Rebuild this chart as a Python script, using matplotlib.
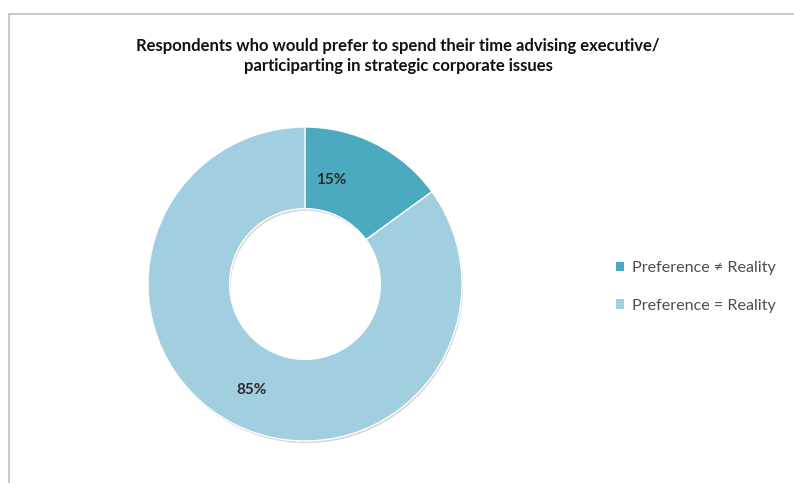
import matplotlib
matplotlib.use("Agg")
import matplotlib.pyplot as plt
import matplotlib.patheffects as pe
from matplotlib.lines import Line2D
from matplotlib.patches import Patch
import numpy as np

title = ("Respondents who would prefer to spend their time advising executive/\n"
         "participarting in strategic corporate issues")
categories = ["Preference \u2260 Reality", "Preference = Reality"]
values = [15, 85]
colors = ["#4BA9C0", "#A2CFDF"]

W, H = 794, 483
fig = plt.figure(figsize=(W / 100, H / 100), dpi=100)
fig.patch.set_facecolor("white")

# chart frame (top and left edges)
fig.add_artist(Line2D([9 / W, 9 / W], [0, 1 - 14 / H], transform=fig.transFigure,
                      color="#c4c4c4", lw=1.3))
fig.add_artist(Line2D([9 / W, 1], [1 - 14 / H, 1 - 14 / H], transform=fig.transFigure,
                      color="#c4c4c4", lw=1.3))

cx, cy, R = 305, 284, 157
half = 162
ax = fig.add_axes([(cx - half) / W, (H - cy - half) / H, 2 * half / W, 2 * half / H])

wedges, _ = ax.pie(values, colors=colors, startangle=90, counterclock=False,
                   radius=1.0, wedgeprops=dict(width=0.52, edgecolor="white", linewidth=1.0))
for w in wedges:
    w.set_path_effects([pe.SimplePatchShadow(offset=(0.8, -1.5), shadow_rgbFace="#888888",
                                             alpha=0.35), pe.Normal()])

lim = half / R
ax.set_xlim(-lim, lim)
ax.set_ylim(-lim, lim)
ax.set_aspect("equal")
ax.axis("off")

# percentage labels placed along each wedge's mid angle
label_r = [0.68, 0.755]
label_shift = [13, 0]
for w, v, r, s in zip(wedges, values, label_r, label_shift):
    ang = np.deg2rad((w.theta1 + w.theta2) / 2 + s)
    ax.text(r * np.cos(ang), r * np.sin(ang), f"{v}%", ha="center", va="center",
            fontsize=11, fontweight="bold", color="#2b2b2b", family="Lato")

fig.text(398 / W, 1 - 56 / H, title, ha="center", va="center", fontsize=12,
         fontweight="bold", color="#111111", family="Lato", linespacing=1.35)

handles = [Patch(facecolor=c, edgecolor="none") for c in colors]
leg = fig.legend(handles, categories, loc="center left",
                 bbox_to_anchor=(601 / W, 1 - 287 / H), frameon=False,
                 prop=dict(family="Lato", size=11.6), labelspacing=1.45,
                 handlelength=0.55, handleheight=0.55, handletextpad=0.45)
for t in leg.get_texts():
    t.set_color("#4d4d4d")

fig.savefig("out.png", dpi=100, facecolor="white")
